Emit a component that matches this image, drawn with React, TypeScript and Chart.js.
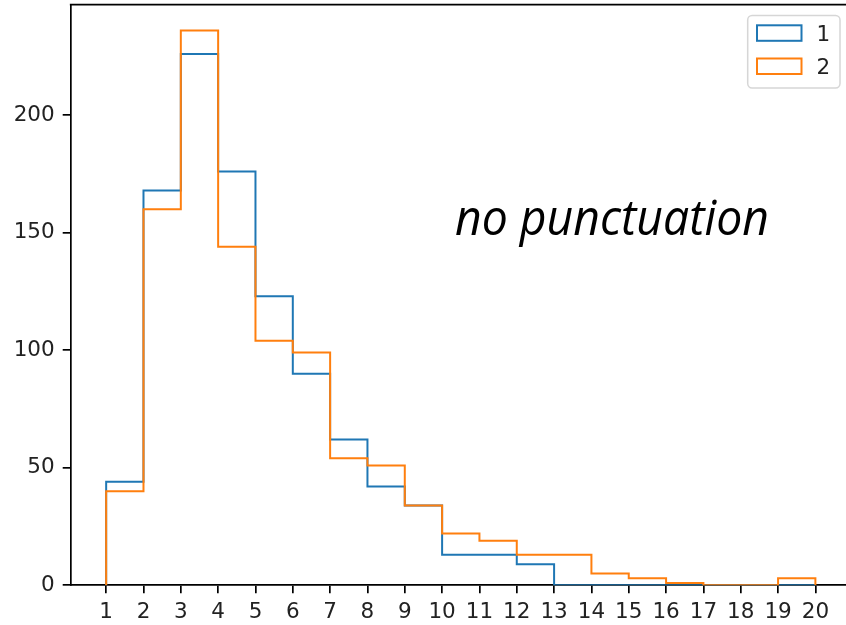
import React, { useEffect, useRef } from "react";
import { Chart, registerables } from "chart.js";

Chart.register(...registerables);

// ---- data ----
const binEdges = [1, 2, 3, 4, 5, 6, 7, 8, 9, 10, 11, 12, 13, 14, 15, 16, 17, 18, 19, 20];
const series1Counts = [44, 168, 226, 176, 123, 90, 62, 42, 34, 13, 13, 9, 0, 0, 0, 0, 0, 0, 0];
const series2Counts = [40, 160, 236, 144, 104, 99, 54, 51, 34, 22, 19, 13, 13, 5, 3, 1, 0, 0, 3];
const xTickValues = [1, 2, 3, 4, 5, 6, 7, 8, 9, 10, 11, 12, 13, 14, 15, 16, 17, 18, 19, 20];
const xTickLabels = ["1", "2", "3", "4", "5", "6", "7", "8", "9", "10", "11", "12", "13", "14", "15", "16", "17", "18", "19", "20"];
const yTickValues = [0, 50, 100, 150, 200];
const legendLabels = ["1", "2"];
const annotationText = "no punctuation";

const BLUE = "#1f77b4";
const ORANGE = "#ff7f0e";
const TICK_FONT = { family: "'DejaVu Sans', sans-serif", size: 21.5 };

function stepPoints(counts: number[]) {
  const pts: { x: number; y: number }[] = [{ x: binEdges[0], y: 0 }];
  counts.forEach((c, i) => pts.push({ x: binEdges[i], y: c }));
  pts.push({ x: binEdges[binEdges.length - 1], y: 0 });
  return pts;
}

export default function App() {
  const ref = useRef<HTMLCanvasElement>(null);

  useEffect(() => {
    const canvas = ref.current!;
    const overlay = {
      id: "overlay",
      afterDraw(chart: any) {
        const { ctx, chartArea } = chart;
        ctx.save();
        // top spine
        ctx.strokeStyle = "#000";
        ctx.lineWidth = 1.7;
        ctx.beginPath();
        ctx.moveTo(chartArea.left - 0.85, chartArea.top);
        ctx.lineTo(chartArea.right, chartArea.top);
        ctx.stroke();

        // legend frame
        const fx = 747.7, fy = 15.6, fw = 92.3, fh = 72.4, r = 4.4;
        ctx.beginPath();
        ctx.moveTo(fx + r, fy);
        ctx.lineTo(fx + fw - r, fy);
        ctx.arcTo(fx + fw, fy, fx + fw, fy + r, r);
        ctx.lineTo(fx + fw, fy + fh - r);
        ctx.arcTo(fx + fw, fy + fh, fx + fw - r, fy + fh, r);
        ctx.lineTo(fx + r, fy + fh);
        ctx.arcTo(fx, fy + fh, fx, fy + fh - r, r);
        ctx.lineTo(fx, fy + r);
        ctx.arcTo(fx, fy, fx + r, fy, r);
        ctx.closePath();
        ctx.fillStyle = "rgba(255,255,255,0.8)";
        ctx.fill();
        ctx.strokeStyle = "rgba(204,204,204,0.8)";
        ctx.lineWidth = 1.5;
        ctx.stroke();

        // legend entries
        const colors = [BLUE, ORANGE];
        const rows = [25.3, 58.5];
        ctx.font = `${TICK_FONT.size}px ${TICK_FONT.family}`;
        ctx.textBaseline = "alphabetic";
        ctx.textAlign = "left";
        legendLabels.forEach((lab, i) => {
          ctx.strokeStyle = colors[i];
          ctx.lineWidth = 2;
          ctx.strokeRect(757, rows[i], 44.5, 15.5);
          ctx.fillStyle = "#222";
          ctx.fillText(lab, 816.5, rows[i] + 15.6);
        });

        // annotation text
        ctx.font = "italic 50px 'Open Sans', sans-serif";
        const w = ctx.measureText(annotationText).width;
        ctx.translate(455, 235);
        ctx.scale(314 / w, 1);
        ctx.fillStyle = "#000";
        ctx.fillText(annotationText, 0, 0);
        ctx.restore();
      },
    };

    const axisCommon = {
      z: 1,
      grid: {
        display: true,
        drawOnChartArea: false,
        drawTicks: true,
        tickLength: 8,
        tickColor: "#000",
        tickWidth: 1.7,
        color: "#000",
        lineWidth: 1.7,
      },
      border: { display: true, color: "#000", width: 1.7 },
    };

    const chart = new Chart(canvas, {
      type: "line",
      data: {
        datasets: [
          {
            label: legendLabels[0],
            data: stepPoints(series1Counts),
            borderColor: BLUE,
            backgroundColor: BLUE,
            borderWidth: 2,
            pointRadius: 0,
            stepped: "before",
            fill: false,
            order: 1,
          },
          {
            label: legendLabels[1],
            data: stepPoints(series2Counts),
            borderColor: ORANGE,
            backgroundColor: ORANGE,
            borderWidth: 2,
            pointRadius: 0,
            stepped: "before",
            fill: false,
            order: 0,
          },
        ],
      },
      options: {
        animation: false,
        responsive: false,
        devicePixelRatio: 1,
        layout: { padding: { top: 4.7, left: 0, right: 0, bottom: 0 } },
        plugins: { legend: { display: false }, tooltip: { enabled: false } },
        events: [],
        scales: {
          x: {
            ...axisCommon,
            type: "linear",
            min: 0.05,
            max: 20.82,
            ticks: {
              autoSkip: false,
              maxRotation: 0,
              padding: 6,
              color: "#222",
              font: TICK_FONT,
              callback: (v: any) => {
                const i = xTickValues.indexOf(Number(v));
                return i >= 0 ? xTickLabels[i] : "";
              },
            },
            afterBuildTicks: (s: any) => {
              s.ticks = xTickValues.map((v) => ({ value: v }));
            },
            afterFit: (s: any) => {
              s.height = 39.7;
              s.paddingLeft = 0;
              s.paddingRight = 0;
            },
          },
          y: {
            ...axisCommon,
            type: "linear",
            min: 0,
            max: 247,
            ticks: {
              padding: 8,
              color: "#222",
              font: TICK_FONT,
            },
            afterBuildTicks: (s: any) => {
              s.ticks = yTickValues.map((v) => ({ value: v }));
            },
            afterFit: (s: any) => {
              s.width = 70.7;
              s.paddingTop = 0;
              s.paddingBottom = 0;
            },
          },
        },
      } as any,
      plugins: [overlay],
    });
    return () => chart.destroy();
  }, []);

  return (
    <div style={{ position: "absolute", left: 0, top: 0, width: 846, height: 625, background: "#fff" }}>
      <canvas ref={ref} width={846} height={625} style={{ display: "block", width: 846, height: 625 }} />
    </div>
  );
}
